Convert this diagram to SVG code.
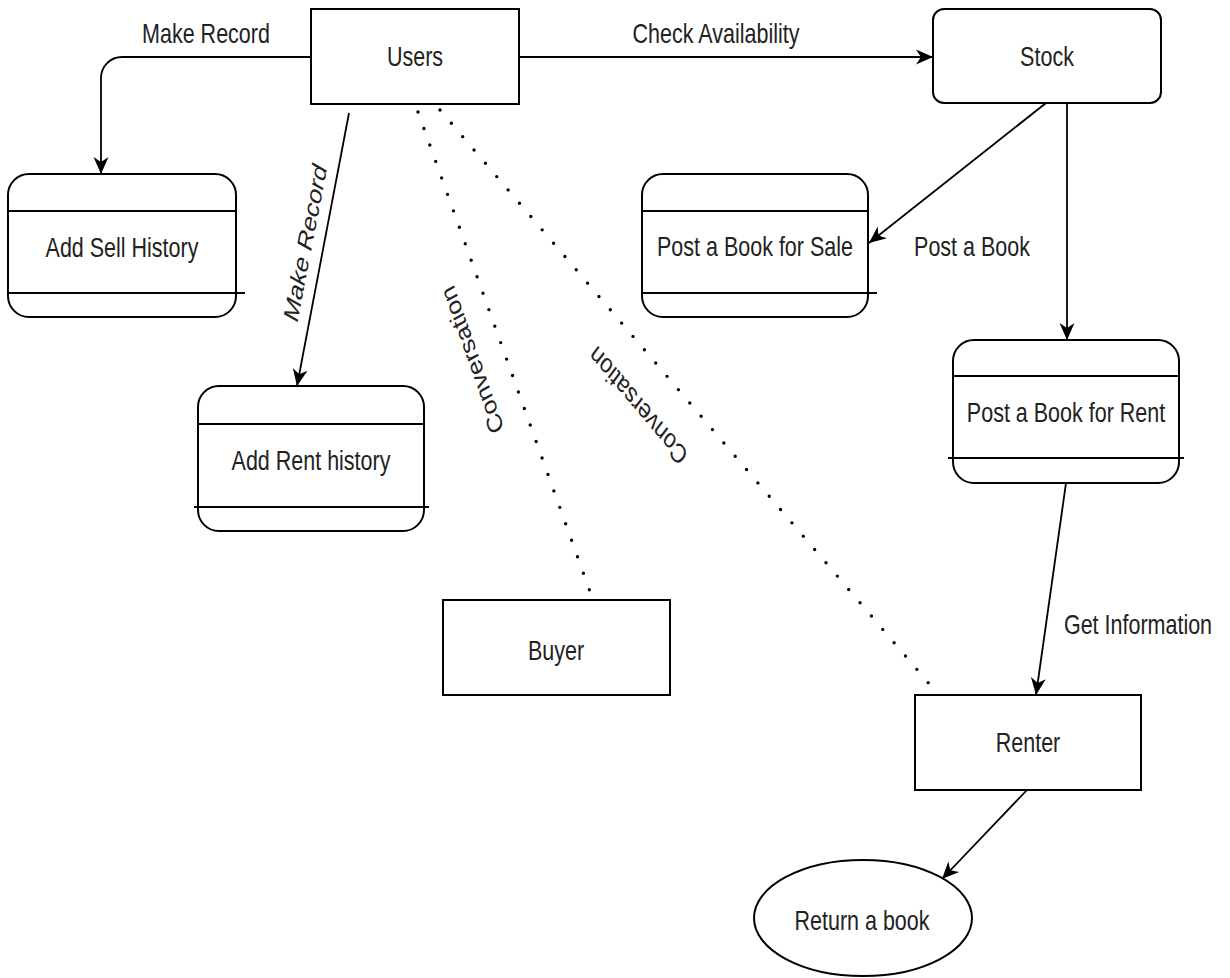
<svg xmlns="http://www.w3.org/2000/svg" width="1230" height="978" viewBox="0 0 1230 978">
  <style>
    .box { fill: #ffffff; stroke: #000000; stroke-width: 2; }
    .div { fill: none; stroke: #000000; stroke-width: 2; }
    .flow { fill: none; stroke: #000000; stroke-width: 1.8; marker-end: url(#arrow); }
    .talk { fill: none; stroke: #000000; stroke-width: 3.4; stroke-linecap: round; stroke-dasharray: 0 17.5; }
    text { font-family: "Liberation Sans", Arial, sans-serif; font-size: 21.5px; fill: #222222; text-anchor: middle; }
    .slant { font-style: italic; }
  </style>
  <defs>
    <marker id="arrow" viewBox="-18 -9 19 18" markerWidth="19" markerHeight="18" refX="0" refY="0" orient="auto" markerUnits="userSpaceOnUse">
      <path d="M0,0 L-17,-7.5 L-12,0 L-17,7.5 Z" fill="#000000"/>
    </marker>
  </defs>

  <!-- connectors -->
  <g id="connectors">
    <path class="flow" d="M311,57 H122 A21,21 0 0 0 101,78 V174"/>
    <path class="flow" d="M349,113 L297,386"/>
    <path class="flow" d="M519,57 H933"/>
    <path class="flow" d="M1046,103 L869,243"/>
    <path class="flow" d="M1067,103 V340"/>
    <path class="flow" d="M1066,483 L1036,695"/>
    <path class="flow" d="M1027,790 L942,879"/>
    <path class="talk" d="M418,112 L593,600"/>
    <path class="talk" d="M440,110 L937,693"/>
    <!-- connector labels -->
    <text transform="translate(206,43) scale(1 1.25)">Make Record</text>
    <text transform="translate(716,43) scale(1 1.25)">Check Availability</text>
    <text transform="translate(972,256) scale(1 1.25)">Post a Book</text>
    <text transform="translate(1138,634) scale(1 1.25)">Get Information</text>
    <text class="slant" transform="translate(305,243) scale(1 1.25) rotate(-76.5)" y="7.5">Make Record</text>
    <text transform="translate(472,360) scale(1 1.25) rotate(-113.8)" y="7.5">Conversation</text>
    <text transform="translate(638,406) scale(1 1.25) rotate(-136.6)" y="7.5">Conversation</text>
  </g>

  <g id="users">
    <rect class="box" x="311" y="9" width="208" height="95"/>
    <text transform="translate(415,66) scale(1 1.25)">Users</text>
  </g>

  <g id="stock">
    <rect class="box" x="933" y="9" width="228" height="94" rx="11" ry="11"/>
    <text transform="translate(1047,66) scale(1 1.25)">Stock</text>
  </g>

  <g id="add-sell-history">
    <rect class="box" x="8" y="174" width="228" height="143" rx="21" ry="21"/>
    <path class="div" d="M8,211 H236 M8,293 H245"/>
    <text transform="translate(122,257) scale(1 1.25)">Add Sell History</text>
  </g>

  <g id="post-sale">
    <rect class="box" x="642" y="174" width="226" height="143" rx="21" ry="21"/>
    <path class="div" d="M642,211 H868 M642,293 H877"/>
    <text transform="translate(755,256) scale(1 1.25)">Post a Book for Sale</text>
  </g>

  <g id="post-rent">
    <rect class="box" x="953" y="340" width="226" height="143" rx="21" ry="21"/>
    <path class="div" d="M953,376 H1179 M948,458 H1184"/>
    <text transform="translate(1066,422) scale(1 1.25)">Post a Book for Rent</text>
  </g>

  <g id="add-rent-history">
    <rect class="box" x="198" y="386" width="226" height="145" rx="21" ry="21"/>
    <path class="div" d="M198,424 H424 M194,507 H429"/>
    <text transform="translate(311,470) scale(1 1.25)">Add Rent history</text>
  </g>

  <g id="buyer">
    <rect class="box" x="443" y="600" width="227" height="95"/>
    <text transform="translate(556,660) scale(1 1.25)">Buyer</text>
  </g>

  <g id="renter">
    <rect class="box" x="915" y="695" width="226" height="95"/>
    <text transform="translate(1028,752) scale(1 1.25)">Renter</text>
  </g>

  <g id="return-book">
    <ellipse class="box" cx="863" cy="918" rx="109" ry="58"/>
    <text transform="translate(862,930) scale(1 1.25)">Return a book</text>
  </g>
</svg>
